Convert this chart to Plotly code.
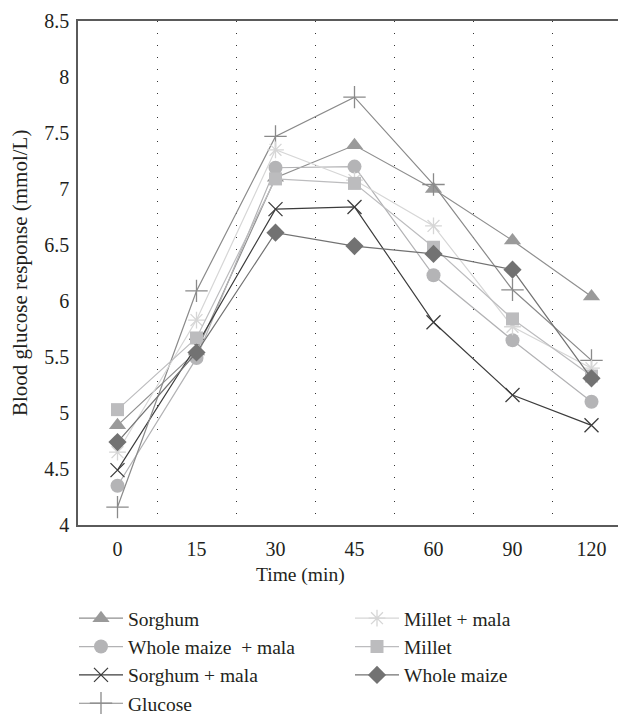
import plotly.graph_objects as go

times = ["0", "15", "30", "45", "60", "90", "120"]
x_pos = [0, 1, 2, 3, 4, 5, 6]

sorghum = [4.89, 5.55, 7.10, 7.39, 7.00, 6.54, 6.04]
whole_maize_mala = [4.35, 5.49, 7.19, 7.20, 6.23, 5.65, 5.10]
sorghum_mala = [4.49, 5.60, 6.82, 6.84, 5.81, 5.16, 4.89]
glucose = [4.16, 6.09, 7.47, 7.82, 7.04, 6.10, 5.47]
millet_mala = [4.65, 5.83, 7.35, 7.08, 6.67, 5.77, 5.40]
millet = [5.03, 5.67, 7.09, 7.05, 6.48, 5.84, 5.33]
whole_maize = [4.74, 5.54, 6.61, 6.49, 6.42, 6.28, 5.31]

FONT = "Liberation Serif"
TXT = "#231f20"
fig = go.Figure()

series = [
    ("Sorghum", sorghum, "#8f8f8f", "triangle-up", 15, "#9a9a9a", "legend", 1),
    ("Whole maize  + mala", whole_maize_mala, "#b2b2b4", "circle", 14, "#b4b4b6", "legend", 2),
    ("Sorghum + mala", sorghum_mala, "#3c3c3c", "x-thin", 14, "#3c3c3c", "legend", 3),
    ("Glucose", glucose, "#8a8a8a", "cross-thin", 16, "#8a8a8a", "legend", 4),
    ("Millet + mala", millet_mala, "#d6d6d6", "asterisk", 14, "#d6d6d6", "legend2", 5),
    ("Millet", millet, "#bcbcbe", "square", 13, "#bcbcbe", "legend2", 6),
    ("Whole maize", whole_maize, "#727272", "diamond", 14, "#727272", "legend2", 7),
]

for name, vals, lc, sym, size, mc, leg, rank in series:
    thin = sym in ("x-thin", "cross-thin", "asterisk")
    marker = dict(symbol=sym, size=size, color=mc)
    if thin:
        marker["line"] = dict(color=mc, width=1.3)
    else:
        marker["line"] = dict(width=0)
    fig.add_trace(go.Scatter(
        x=x_pos, y=vals, name=name, mode="lines+markers",
        line=dict(color=lc, width=1.2), marker=marker,
        legend=leg, legendgroup=name, legendrank=rank,
    ))

legend_common = dict(
    font=dict(family=FONT, size=19.5, color=TXT),
    bgcolor="rgba(0,0,0,0)", itemwidth=44, tracegroupgap=0,
    orientation="v", xref="container", yref="container",
    xanchor="left", yanchor="top", itemclick=False,
)

fig.update_layout(
    width=618, height=714,
    margin=dict(l=78, r=0, t=21, b=189, autoexpand=False),
    paper_bgcolor="white", plot_bgcolor="white",
    font=dict(family=FONT, size=19, color=TXT),
    showlegend=True,
    legend=dict(**legend_common, x=74 / 618, y=1 - 599 / 714),
    legend2=dict(**legend_common, x=350 / 618, y=1 - 599 / 714),
    xaxis=dict(
        range=[-0.5, 540 / 79 - 0.5], automargin=False,
        tickmode="array", tickvals=x_pos, ticktext=times,
        showgrid=False, zeroline=False,
        showline=True, linecolor="#5a5a5a", linewidth=1.5, mirror=True,
        ticks="", ticklabelstandoff=5,
        tickfont=dict(family=FONT, size=20, color=TXT),
        minor=dict(tick0=0.5, dtick=1, showgrid=True, gridcolor="#333333",
                   gridwidth=1, griddash="1px,11px", ticks=""),
    ),
    yaxis=dict(
        range=[4, 8.5], dtick=0.5, tick0=4, automargin=False,
        showgrid=False, zeroline=False,
        showline=True, linecolor="#5a5a5a", linewidth=1.5,
        ticks="", ticklabelstandoff=3,
        tickfont=dict(family=FONT, size=20, color=TXT),
    ),
    annotations=[
        dict(text="Time (min)", xref="paper", yref="paper",
             x=(300 - 78) / 540, y=(525 - 575) / 504,
             xanchor="center", yanchor="middle", showarrow=False,
             font=dict(family=FONT, size=19.5, color=TXT)),
        dict(text="Blood glucose response (mmol/L)", xref="paper", yref="paper",
             x=(20 - 78) / 540, y=0.5, textangle=-90,
             xanchor="center", yanchor="middle", showarrow=False,
             font=dict(family=FONT, size=21, color=TXT)),
    ],
)

fig.write_html("out.html", post_script="document.body.style.margin='0';",
               config={"displayModeBar": False})
